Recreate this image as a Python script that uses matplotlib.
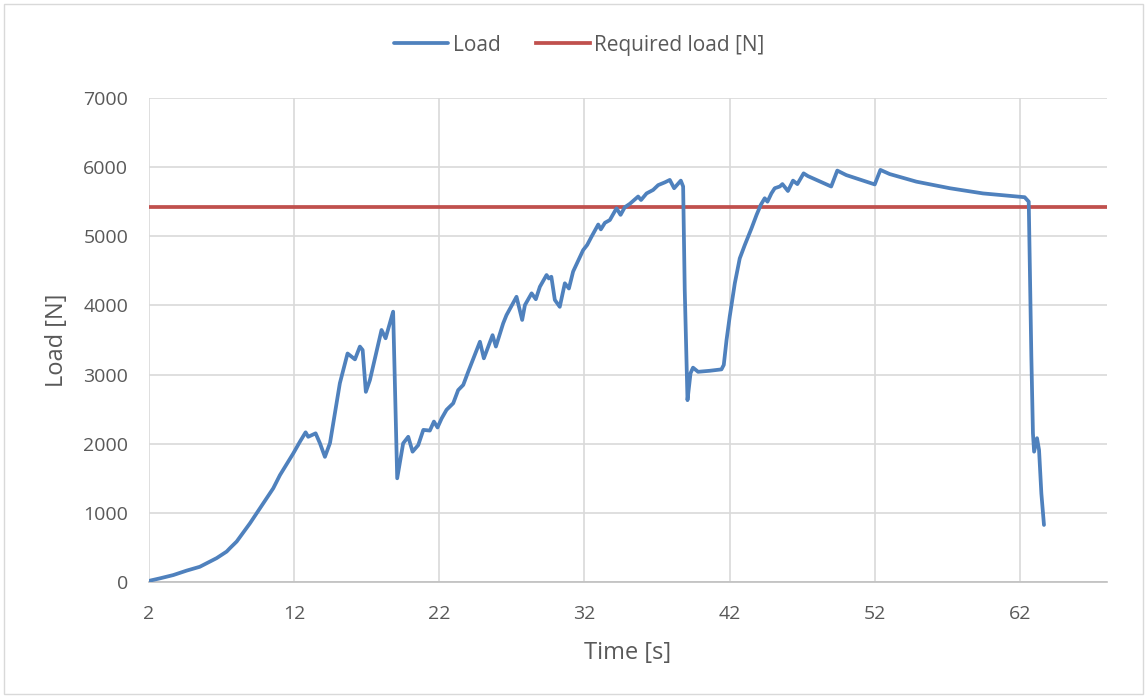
import numpy as np
import matplotlib
matplotlib.use("Agg")
import matplotlib.pyplot as plt
from matplotlib.patches import Rectangle

# Load curve (time in s, load in N)
time_s = [2.07, 2.76, 3.67, 4.6, 5.5, 5.97, 6.66, 7.35, 7.58, 8.04, 8.96, 9.64,
          10.56, 11.02, 11.94, 12.4, 12.79, 12.97, 13.48,
          13.78, 14.12, 14.47, 15.15, 15.68, 16.19, 16.53, 16.72, 16.94, 17.22,
          18.02, 18.3, 18.82, 19.1, 19.51, 19.86, 20.16, 20.55, 20.9, 21.35,
          21.63, 21.88, 22.16, 22.5, 22.96, 23.3, 23.65, 23.99, 24.8, 25.07,
          25.67, 25.9, 26.4, 26.63, 27.32, 27.71, 27.9, 28.36, 28.65, 28.93,
          29.39, 29.55, 29.72, 29.96, 30.3, 30.65, 30.93, 31.22, 31.91, 32.19,
          32.49, 32.95, 33.13, 33.41, 33.75, 34.21, 34.49, 34.78, 35.13, 35.7,
          35.9, 36.28, 36.73, 37.08, 37.54, 37.88, 38.18, 38.64, 38.8, 38.91,
          39.1, 39.31, 39.48, 39.83, 40.64, 41.44, 41.6, 41.79, 42.01, 42.36,
          42.7, 43.05, 43.51, 43.86, 44.15, 44.42, 44.61, 44.88, 45.11, 45.46,
          45.64, 46.02, 46.37, 46.67, 47.1, 47.4, 49.0, 49.42, 50.04, 52.0,
          52.39, 53.03, 54.87, 57.17, 59.46, 62.33, 62.61, 62.79, 62.9, 62.98,
          63.18, 63.32, 63.48, 63.66]
load_n = [20, 53, 100, 165, 220, 270, 345, 440, 490, 585, 850, 1065,
          1355, 1545, 1860, 2030, 2165, 2100, 2150,
          2005, 1810, 2010, 2875, 3305, 3220, 3405, 3355, 2750, 2920,
          3645, 3525, 3910, 1500, 2005, 2100, 1885, 1980, 2200, 2190,
          2320, 2235, 2365, 2490, 2585, 2775, 2850, 3040, 3475, 3235,
          3570, 3405, 3740, 3860, 4125, 3790, 4005, 4175, 4090, 4270,
          4440, 4390, 4415, 4080, 3980, 4320, 4245, 4490, 4800, 4875,
          4995, 5170, 5100, 5195, 5235, 5405, 5310, 5420, 5470, 5575,
          5525, 5620, 5670, 5740, 5780, 5815, 5695, 5805, 5720, 4225,
          2630, 3020, 3100, 3040, 3055, 3075, 3140, 3500, 3840, 4320,
          4680, 4875, 5115, 5310, 5455, 5550, 5500, 5620, 5695, 5720,
          5755, 5655, 5805, 5755, 5910, 5870, 5720, 5950, 5885, 5750,
          5960, 5900, 5790, 5695, 5620, 5565, 5500, 3260, 2150, 1885,
          2080, 1910, 1280, 825]
required_load = 5430
x_ticks = [2, 12, 22, 32, 42, 52, 62]
y_ticks = [0, 1000, 2000, 3000, 4000, 5000, 6000, 7000]

text_col = "#595959"
plt.rcParams["font.family"] = ["Open Sans", "DejaVu Sans"]

fig = plt.figure(figsize=(11.47, 6.98), dpi=100)
ax = fig.add_axes([0.1299, 0.1662, 0.8352, 0.6934])

# chart border
fig.patches.append(Rectangle((0.0035, 0.006), 0.993, 0.988, transform=fig.transFigure,
                             fill=False, edgecolor="#d9d9d9", linewidth=1))

ax.plot(time_s, load_n, color="#4f81bd", linewidth=2.7, label="Load",
        solid_joinstyle="round", solid_capstyle="round", zorder=3)
ax.axhline(required_load, color="#c0504d", linewidth=2.7, label="Required load [N]", zorder=2)

ax.set_xlim(2, 68)
ax.set_ylim(0, 7000)
ax.set_xticks(x_ticks)
ax.set_yticks(y_ticks)
ax.grid(True, color="#d9d9d9", linewidth=1.2)
ax.set_axisbelow(True)
for side in ["left", "right", "top"]:
    ax.spines[side].set_visible(False)
ax.spines["bottom"].set_color("#bfbfbf")
ax.spines["bottom"].set_linewidth(1.2)
ax.tick_params(length=0, labelsize=14, labelcolor=text_col)
ax.tick_params(axis="x", pad=16.5)
ax.tick_params(axis="y", pad=15)

ax.set_xlabel("Time [s]", fontsize=17, color=text_col)
ax.set_ylabel("Load [N]", fontsize=17, color=text_col)
ax.xaxis.set_label_coords(0.5, -0.1225)
ax.yaxis.set_label_coords(-0.084, 0.5)

fig.legend(loc="center", bbox_to_anchor=(0.505, 0.9355), ncol=2, frameon=False,
           fontsize=15, labelcolor=text_col, handlelength=2.6, columnspacing=1.7,
           handletextpad=0.2)

fig.savefig("out.png", dpi=100)
